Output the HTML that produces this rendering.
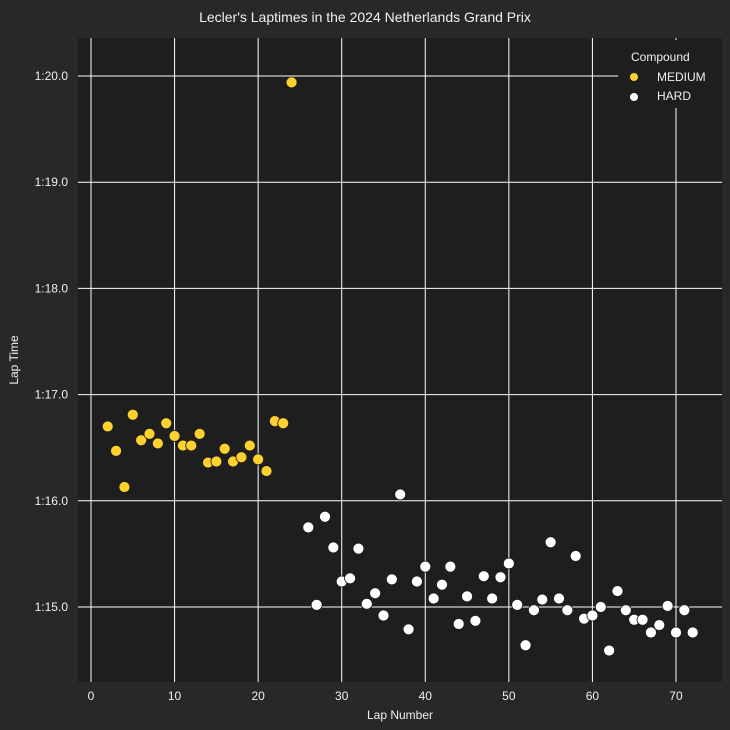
<!DOCTYPE html>
<html><head><meta charset="utf-8"><style>
html,body{margin:0;padding:0;background:#292827;}
svg{display:block;font-family:"Liberation Sans","DejaVu Sans",sans-serif;}
</style></head><body>
<svg id="chart" width="730" height="730" viewBox="0 0 730 730">
<rect x="0" y="0" width="730" height="730" fill="#292827"/>
<text x="365" y="22" fill="#f0f0f0" font-size="14" text-anchor="middle">Lecler's Laptimes in the 2024 Netherlands Grand Prix</text>
<rect x="78" y="38" width="644" height="644" fill="#1e1e1e"/>
<g id="grid"></g><g id="points"></g>
<text x="400" y="719" fill="#f0f0f0" font-size="12" text-anchor="middle">Lap Number</text>
<text x="18" y="360" fill="#f0f0f0" font-size="12" text-anchor="middle" transform="rotate(-90 18 360)">Lap Time</text>
<g>
<rect x="618" y="40" width="104" height="68" fill="#1e1e1e"/>
<text x="631" y="61" fill="#f0f0f0" font-size="12">Compound</text>
<circle cx="634" cy="77" r="4.5" fill="#ffd12e" stroke="#1e1e1e"/>
<text x="657" y="81" fill="#f0f0f0" font-size="12">MEDIUM</text>
<circle cx="634" cy="97" r="4.5" fill="#ffffff" stroke="#1e1e1e"/>
<text x="657" y="100" fill="#f0f0f0" font-size="12">HARD</text>
</g>
</svg>
<script>
const xTicks=[0,10,20,30,40,50,60,70];
const yTicks=[75,76,77,78,79,80];
const yTickLabels=["1:15.0","1:16.0","1:17.0","1:18.0","1:19.0","1:20.0"];
const mediumLaps=[2,3,4,5,6,7,8,9,10,11,12,13,14,15,16,17,18,19,20,21,22,23,24];
const mediumTimes=[76.70,76.47,76.13,76.81,76.57,76.63,76.54,76.73,76.61,76.52,76.52,76.63,76.36,76.37,76.49,76.37,76.41,76.52,76.39,76.28,76.75,76.73,79.94];
const hardLaps=[26,27,28,29,30,31,32,33,34,35,36,37,38,39,40,41,42,43,44,45,46,47,48,49,50,51,52,53,54,55,56,57,58,59,60,61,62,63,64,65,66,67,68,69,70,71,72];
const hardTimes=[75.75,75.02,75.85,75.56,75.24,75.27,75.55,75.03,75.13,74.92,75.26,76.06,74.79,75.24,75.38,75.08,75.21,75.38,74.84,75.10,74.87,75.29,75.08,75.28,75.41,75.02,74.64,74.97,75.07,75.61,75.08,74.97,75.48,74.89,74.92,75.00,74.59,75.15,74.97,74.88,74.88,74.76,74.83,75.01,74.76,74.97,74.76];
const xs=v=>91+v*8.357;
const ys=v=>607-(v-75)*106.2;
const NS="http://www.w3.org/2000/svg";
const grid=document.getElementById('grid'),pts=document.getElementById('points');
function mk(tag,attrs,parent){const e=document.createElementNS(NS,tag);for(const k in attrs)e.setAttribute(k,attrs[k]);parent.appendChild(e);return e;}
xTicks.forEach(t=>{
 const l=mk('line',{x1:xs(t),x2:xs(t),y1:38,y2:682,stroke:'#ffffff','stroke-width':1},grid);
 
 
 const tx=mk('text',{x:xs(t),y:700,fill:'#f0f0f0','font-size':12,'text-anchor':'middle'},grid);
 tx.textContent=t;
 
 
});
yTicks.forEach((t,i)=>{
 const l=mk('line',{x1:78,x2:722,y1:ys(t),y2:ys(t),stroke:'#ffffff','stroke-width':1},grid);
 
 
 const tx=mk('text',{x:68,y:ys(t)+4,fill:'#f0f0f0','font-size':12,'text-anchor':'end'},grid);
 tx.textContent=yTickLabels[i];
 
 
});
mediumLaps.forEach((l,i)=>{
 const c=mk('circle',{cx:xs(l),cy:ys(mediumTimes[i]),r:5.5,fill:'#ffd12e',stroke:'#1e1e1e','stroke-width':0.8},pts);
 
 
});
hardLaps.forEach((l,i)=>{
 const c=mk('circle',{cx:xs(l),cy:ys(hardTimes[i]),r:5.5,fill:'#ffffff',stroke:'#1e1e1e','stroke-width':0.8},pts);
 
 
});
</script>
</body></html>
